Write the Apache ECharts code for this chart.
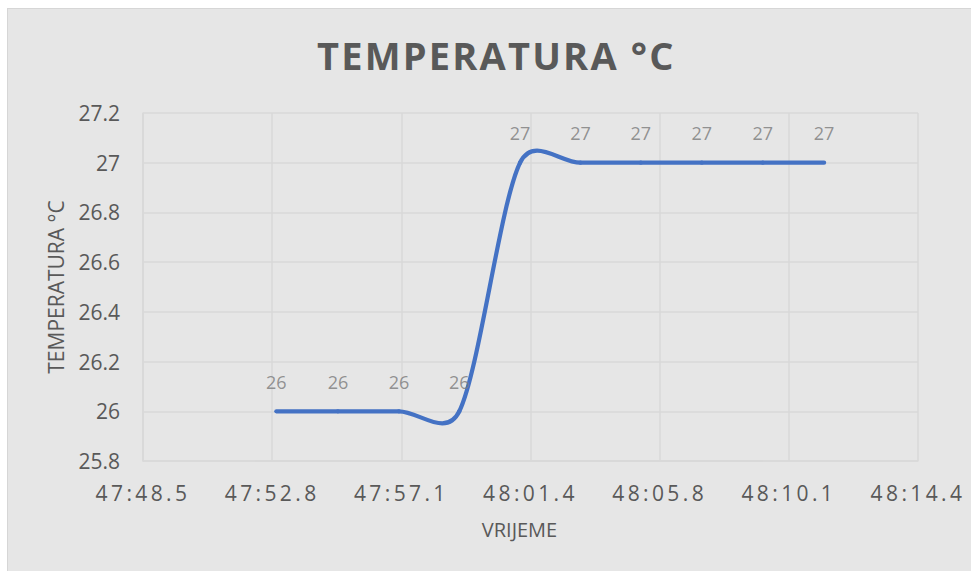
<!DOCTYPE html>
<html>
<head>
<meta charset="utf-8">
<script src="https://cdn.jsdelivr.net/npm/echarts@6/dist/echarts.min.js"></script>
<style>
  html, body { margin: 0; padding: 0; background: #ffffff; }
  #frame {
    position: absolute; left: 7px; top: 8px; width: 964px; height: 563px;
    background: #e6e6e6; border-left: 1px solid #d6d6d6; border-top: 1px solid #d6d6d6;
  }
  #chart { position: absolute; left: 0; top: 0; width: 971px; height: 571px; }
  /* Excel draws the time labels and the title with extra spacing between letters */
  #chart text[style*="Arial"] { letter-spacing: 3.4px; }
  #chart text[style*="bold"] { letter-spacing: 2.2px; }
</style>
</head>
<body>
<div id="frame"></div>
<div id="chart"></div>
<script>
// measurement times (mm:ss.ss) and temperatures
const times = ['47:52.94', '47:55.00', '47:57.04', '47:59.06', '48:01.09',
               '48:03.11', '48:05.13', '48:07.17', '48:09.21', '48:11.26'];
const temps = [26, 26, 26, 26, 27, 27, 27, 27, 27, 27];

// axis range, in seconds of the hour
const xMin = 2868.48;   // 47:48.48
const xMax = 2894.40;   // 48:14.40
const xStep = 4.32;
const yMin = 25.8, yMax = 27.2, yStep = 0.2;

const toSec = s => {
  const [m, sec] = s.split(':');
  return Number(m) * 60 + Number(sec);
};
const secs = times.map(toSec);
const points = secs.map((t, i) => [t, temps[i]]);

const fmtTime = v => {
  const m = Math.floor(v / 60 + 1e-9);
  const s = (v - m * 60).toFixed(1);
  return m + ':' + (s.length < 4 ? '0' + s : s);
};

const gray = '#595959';
const gridColor = '#d9d9d9';

// Excel-like smoothing: Bezier control points at 1/6 of the neighbour chord,
// capped at half of the segment length (done in pixel space)
function renderSegment(params, api) {
  const i = params.dataIndex;
  if (i >= points.length - 1) return null;
  const c = k => api.coord(points[Math.max(0, Math.min(points.length - 1, k))]);
  const p0 = c(i - 1), p1 = c(i), p2 = c(i + 1), p3 = c(i + 2);
  const dist = (a, b) => Math.hypot(a[0] - b[0], a[1] - b[1]);
  const d12 = dist(p1, p2), d02 = dist(p0, p2), d13 = dist(p1, p3);
  let f0 = 1 / 6, f1 = 1 / 6;
  if (d02 / 6 > d12 / 2 && d02 > 0) f0 = d12 / 2 / d02;
  if (d13 / 6 > d12 / 2 && d13 > 0) f1 = d12 / 2 / d13;
  return {
    type: 'bezierCurve',
    shape: {
      x1: p1[0], y1: p1[1], x2: p2[0], y2: p2[1],
      cpx1: p1[0] + f0 * (p2[0] - p0[0]), cpy1: p1[1] + f0 * (p2[1] - p0[1]),
      cpx2: p2[0] - f1 * (p3[0] - p1[0]), cpy2: p2[1] - f1 * (p3[1] - p1[1])
    },
    style: { stroke: '#4472c4', lineWidth: 4.2, fill: null, lineCap: 'round' }
  };
}

const chart = echarts.init(document.getElementById('chart'), null, { renderer: 'svg' });

chart.setOption({
  backgroundColor: 'transparent',
  animation: false,
  title: {
    text: 'TEMPERATURA °C',
    left: 312,
    top: 31,
    textStyle: { fontFamily: 'Open Sans', fontWeight: 'bold', fontSize: 38, color: gray }
  },
  grid: { left: 143, right: 53, top: 113, bottom: 110 },
  xAxis: {
    type: 'value',
    min: xMin, max: xMax, interval: xStep,
    name: 'VRIJEME',
    nameLocation: 'middle',
    nameGap: 58,
    nameTextStyle: { fontFamily: 'Open Sans', fontSize: 20, color: gray, padding: [0, 22, 0, 0] },
    axisLine: { show: true, lineStyle: { color: gridColor, width: 1.5 } },
    axisTick: { show: false },
    axisLabel: {
      margin: 21,
      fontFamily: "'Open Sans', Arial",
      fontSize: 21,
      color: gray,
      formatter: fmtTime
    },
    splitLine: { show: true, lineStyle: { color: gridColor, width: 1.5 } }
  },
  yAxis: {
    type: 'value',
    min: yMin, max: yMax, interval: yStep,
    name: 'TEMPERATURA °C',
    nameLocation: 'middle',
    nameGap: 77,
    nameTextStyle: { fontFamily: 'Open Sans', fontSize: 21, color: gray },
    axisLine: { show: true, lineStyle: { color: gridColor, width: 1.5 } },
    axisTick: { show: false },
    axisLabel: {
      margin: 23,
      fontFamily: 'Open Sans',
      fontSize: 21,
      color: gray,
      formatter: v => (Math.round(v * 10) / 10).toString()
    },
    splitLine: { show: true, lineStyle: { color: gridColor, width: 1.5 } }
  },
  series: [
    {
      type: 'custom',
      data: points,
      encode: { x: 0, y: 1 },
      renderItem: renderSegment,
      silent: true
    },
    {
      type: 'scatter',
      data: points,
      symbolSize: 1,
      itemStyle: { color: 'rgba(0,0,0,0)' },
      label: {
        show: true,
        position: 'top',
        distance: 20,
        fontFamily: 'Open Sans',
        fontSize: 18,
        color: '#7a7a7a',
        formatter: p => p.value[1]
      },
      silent: true
    }
  ]
});
</script>
</body>
</html>
